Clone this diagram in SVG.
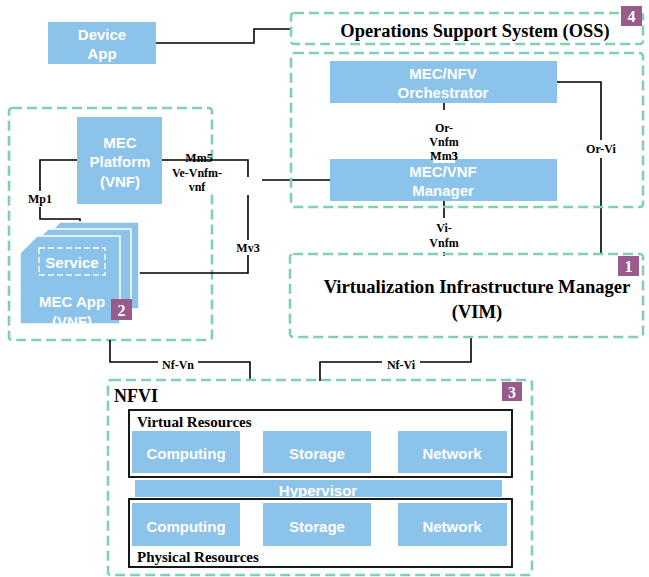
<svg xmlns="http://www.w3.org/2000/svg" width="649" height="577" viewBox="0 0 649 577">
<style>
.dash{fill:none;stroke:#82CFB3;stroke-width:2.6;stroke-dasharray:10 5;}
.blue{fill:#8CC3EB;}
.wt{font-family:"Liberation Sans",Arial,sans-serif;font-weight:bold;font-size:15px;fill:#fff;text-anchor:middle;}
.lbl{font-family:"Liberation Serif","Times New Roman",serif;font-weight:bold;font-size:12px;fill:#000;text-anchor:middle;}
.ttl{font-family:"Liberation Serif","Times New Roman",serif;font-weight:bold;fill:#000;}
.badge{fill:#985B8B;}
.bt{font-family:"Liberation Serif","Times New Roman",serif;font-weight:bold;font-size:16px;fill:#fff;text-anchor:middle;}
.ln{fill:none;stroke:#000;stroke-width:1.6;}
.box{fill:none;stroke:#000;stroke-width:1.8;}
</style>
<rect width="649" height="577" fill="#fff"/>

<g id="mec-host">
<rect class="dash" x="9" y="108" width="203" height="232" rx="3"/>
</g>

<g id="connectors">
<polyline class="ln" points="156,43 254,43 254,29 291,29"/>
<polyline class="ln" points="444,103 444,110"/>
<polyline class="ln" points="557,82 601,82 601,254"/>
<polyline class="ln" points="444,201 444,256"/>
<polyline class="ln" points="471,337 471,362 320,362 320,381"/>
<polyline class="ln" points="110,340 110,362 250,362 250,381"/>
<polyline class="ln" points="77,160 40,160 40,219 80,219 80,228"/>
<polyline class="ln" points="162,160 248,160 248,177"/>
<polyline class="ln" points="248,195 248,273 132,273"/>
<polyline class="ln" points="262,180 330,180"/>
<rect x="420" y="120" width="48" height="42" fill="#fff"/>
<text class="lbl" x="444" y="132">Or-</text>
<text class="lbl" x="444" y="146">Vnfm</text>
<text class="lbl" x="444" y="160">Mm3</text>
<rect x="584" y="140" width="34" height="18" fill="#fff"/>
<text class="lbl" x="601" y="153">Or-Vi</text>
<rect x="425" y="218" width="38" height="34" fill="#fff"/>
<text class="lbl" x="444" y="232">Vi-</text>
<text class="lbl" x="444" y="247">Vnfm</text>
<rect x="27" y="191" width="26" height="16" fill="#fff"/>
<text class="lbl" x="40" y="203">Mp1</text>
<rect x="234" y="240" width="30" height="15" fill="#fff"/>
<text class="lbl" x="248" y="252">Mv3</text>
<rect x="172" y="165" width="52" height="26" fill="#fff"/>
<text class="lbl" x="199" y="162">Mm5</text>
<text class="lbl" x="197" y="177">Ve-Vnfm-</text>
<text class="lbl" x="197" y="191">vnf</text>
<rect x="158" y="358" width="40" height="12" fill="#fff"/>
<text class="lbl" x="178" y="369">Nf-Vn</text>
<rect x="382" y="358" width="38" height="12" fill="#fff"/>
<text class="lbl" x="401" y="369">Nf-Vi</text>
</g>

<g id="device-app">
<rect class="blue" x="48" y="22" width="108" height="42"/>
<text class="wt" x="102" y="40">Device</text>
<text class="wt" x="102" y="59">App</text>
</g>

<g id="oss">
<rect class="dash" x="291" y="13" width="352" height="31" rx="3"/>
<text class="ttl" x="475" y="37" font-size="18.4" text-anchor="middle">Operations Support System (OSS)</text>
<rect class="badge" x="621" y="6" width="21" height="20"/>
<text class="bt" x="631.5" y="22">4</text>
</g>

<g id="mano">
<rect class="dash" x="291" y="53" width="352" height="154" rx="3"/>
</g>

<g id="orchestrator">
<rect class="blue" x="330" y="61" width="227" height="42"/>
<text class="wt" x="443" y="79">MEC/NFV</text>
<text class="wt" x="443" y="98">Orchestrator</text>
</g>

<g id="vnf-manager">
<rect class="blue" x="330" y="159" width="227" height="42"/>
<rect x="433" y="154" width="22" height="9" fill="#fff"/>
<text class="lbl" x="444" y="160">Mm3</text>
<text class="wt" x="443" y="177">MEC/VNF</text>
<text class="wt" x="443" y="196">Manager</text>
</g>

<g id="vim">
<rect class="dash" x="290" y="254" width="353" height="83" rx="3"/>
<text class="ttl" x="477" y="293" font-size="18.6" text-anchor="middle">Virtualization Infrastructure Manager</text>
<text class="ttl" x="477" y="318" font-size="18.6" text-anchor="middle">(VIM)</text>
<rect class="badge" x="618" y="256" width="21" height="20"/>
<text class="bt" x="628.5" y="272">1</text>
</g>

<g id="mec-platform">
<rect class="blue" x="77" y="117" width="85" height="87"/>
<text class="wt" x="120" y="148">MEC</text>
<text class="wt" x="120" y="167">Platform</text>
<text class="wt" x="120" y="187">(VNF)</text>
</g>

<g id="mec-app">
<polygon class="blue" points="60,222 139,222 139,309 43,309 43,239" stroke="#fff" stroke-width="1.5"/>
<polygon class="blue" points="48,229 131,229 131,316 31,316 31,246" stroke="#fff" stroke-width="1.5"/>
<polygon class="blue" points="37,236 120,236 120,324 20,324 20,253" stroke="#fff" stroke-width="1.5"/>
<rect x="39" y="248" width="66" height="27" fill="none" stroke="#fff" stroke-width="1.4" stroke-dasharray="6 3"/>
<text class="wt" x="72" y="268">Service</text>
<text class="wt" x="72" y="307">MEC App</text>
<text class="wt" x="72" y="327">(VNF)</text>
<rect class="badge" x="111" y="299" width="21" height="21"/>
<text class="bt" x="121.5" y="316">2</text>
</g>

<g id="nfvi">
<rect class="dash" x="108" y="380" width="424" height="195" rx="3"/>
<text class="ttl" x="114" y="402" font-size="18">NFVI</text>
<rect class="badge" x="502" y="382" width="20" height="19"/>
<text class="bt" x="512" y="398">3</text>
</g>

<g id="virtual-resources">
<rect class="box" x="129" y="410" width="383" height="67"/>
<text class="ttl" x="137" y="427" font-size="15">Virtual Resources</text>
<rect class="blue" x="132" y="431" width="108" height="42"/>
<text class="wt" x="186" y="459">Computing</text>
<rect class="blue" x="263" y="431" width="108" height="42"/>
<text class="wt" x="317" y="459">Storage</text>
<rect class="blue" x="398" y="431" width="109" height="42"/>
<text class="wt" x="452" y="459">Network</text>
</g>

<g id="hypervisor">
<rect class="blue" x="135" y="480" width="367" height="17"/>
<text class="wt" x="318" y="496">Hypervisor</text>
</g>

<g id="physical-resources">
<rect class="box" x="129" y="499" width="383" height="68"/>
<rect class="blue" x="132" y="503" width="108" height="43"/>
<text class="wt" x="186" y="532">Computing</text>
<rect class="blue" x="263" y="503" width="108" height="43"/>
<text class="wt" x="317" y="532">Storage</text>
<rect class="blue" x="398" y="503" width="109" height="43"/>
<text class="wt" x="452" y="532">Network</text>
<text class="ttl" x="137" y="562" font-size="15">Physical Resources</text>
</g>
</svg>
